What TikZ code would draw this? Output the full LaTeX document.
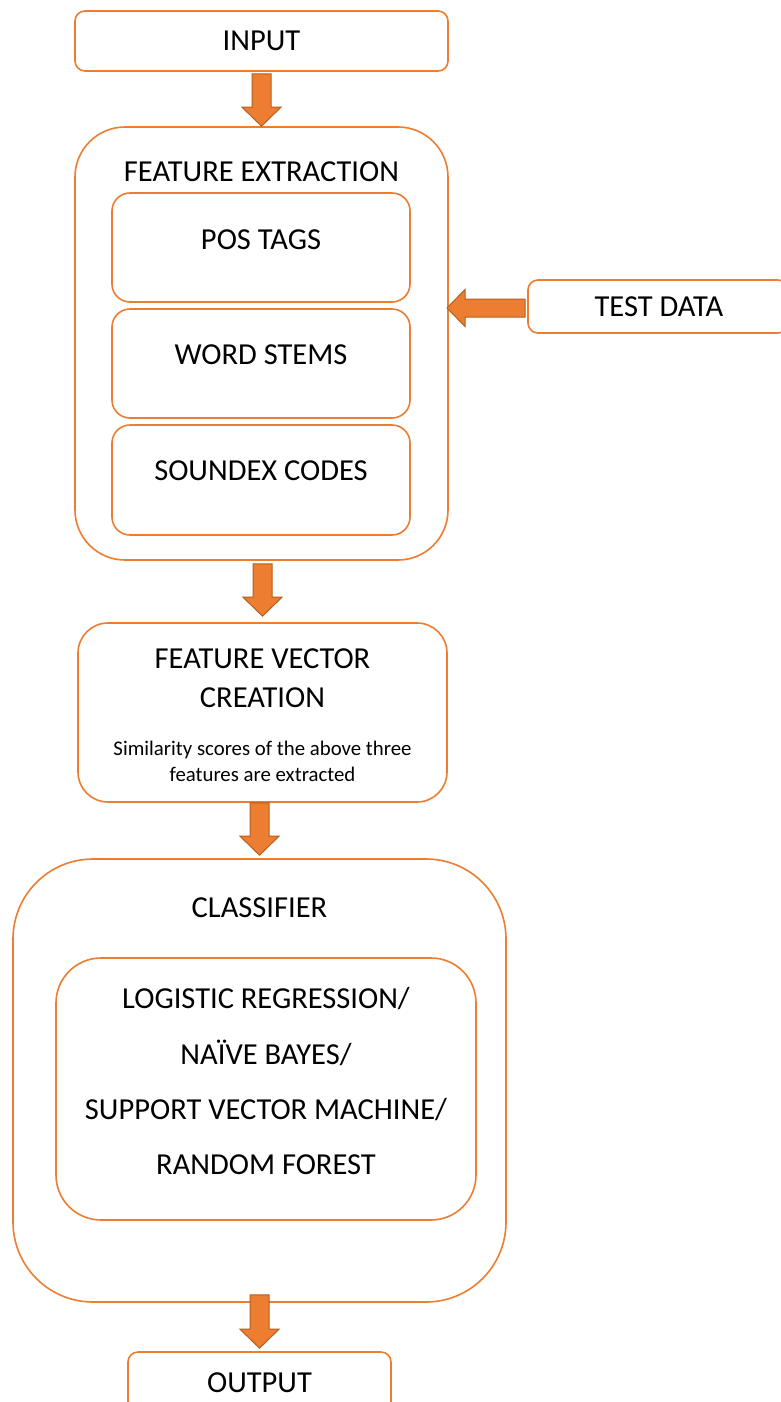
\documentclass[tikz,border=0pt]{standalone}
\usepackage{fontspec}
\setmainfont{Carlito}
\usetikzlibrary{calc}
\definecolor{boxorange}{HTML}{ED7D31}
\definecolor{arrowedge}{HTML}{B4601F}
\tikzset{
  box/.style={draw=boxorange, line width=1.6pt, fill=white, inner sep=0pt},
  bigtxt/.style={font=\fontsize{30.5}{39}\selectfont, inner sep=0pt, text height=19.6pt, text depth=0pt, align=center},
  smalltxt/.style={font=\fontsize{20.8}{26}\selectfont, inner sep=0pt, text height=13.4pt, text depth=0pt, align=center},
  algtxtstyle/.style={font=\fontsize{30.5}{55.3}\selectfont, inner sep=0pt, text height=19.6pt, text depth=0pt, align=center},
  barrow/.style={fill=boxorange, draw=arrowedge, line width=1pt, line join=miter}
}
\newcommand{\vblockarrow}[2]{%
  \draw[barrow] let \p1=(#1), \p2=(#2) in
    (\x2-9.5pt,\y1) -- (\x2+9.5pt,\y1) -- (\x2+9.5pt,\y2+19pt) -- (\x2+19.5pt,\y2+19pt)
    -- (\x2,\y2) -- (\x2-19.5pt,\y2+19pt) -- (\x2-9.5pt,\y2+19pt) -- cycle;}
\newcommand{\hblockarrow}[2]{%
  \draw[barrow] let \p1=(#1), \p2=(#2) in
    (\x1,\y2+9pt) -- (\x2+18pt,\y2+9pt) -- (\x2+18pt,\y2+18.5pt) -- (\x2,\y2)
    -- (\x2+18pt,\y2-18.5pt) -- (\x2+18pt,\y2-9pt) -- (\x1,\y2-9pt) -- cycle;}
\begin{document}
\begin{tikzpicture}[x=1pt, y=-1pt]
\fill[white] (0,0) rectangle (780,1402);
\useasboundingbox (0,0) rectangle (780,1402);

% INPUT
\node[box, rounded corners=10pt, minimum width=373pt, minimum height=60pt] (input) at (261.5,41) {};
\node[bigtxt] (inputtxt) at (261.5,41) {INPUT};

% FEATURE EXTRACTION container
\node[box, rounded corners=50pt, minimum width=373pt, minimum height=433pt] (fe) at (261.5,343.5) {};
\node[bigtxt] (fetitle) at (261.5,172) {FEATURE EXTRACTION};
\node[box, rounded corners=18pt, minimum width=298pt, minimum height=109pt] (pos) at (261,247.5) {};
\node[bigtxt] (postxt) at (261,240) {POS TAGS};
\node[box, rounded corners=18pt, minimum width=298pt, minimum height=109pt] (stem) at (261,363.5) {};
\node[bigtxt] (stemtxt) at (261,355) {WORD STEMS};
\node[box, rounded corners=18pt, minimum width=298pt, minimum height=110pt] (sndx) at (261,480) {};
\node[bigtxt] (sndxtxt) at (261,471) {SOUNDEX CODES};

% TEST DATA
\node[box, rounded corners=10pt, minimum width=260pt, minimum height=53pt] (td) at (658,306.5) {};
\node[bigtxt] (tdtxt) at (659,307) {TEST DATA};
\coordinate (tdtip) at (447,308);

% FEATURE VECTOR CREATION
\node[box, rounded corners=30pt, minimum width=369pt, minimum height=179pt] (fvc) at (262.5,712.5) {};
\node[bigtxt] (fvctitle) at (262.5,698) {FEATURE VECTOR\\CREATION};
\node[smalltxt] (fvcsub) at (262.5,775) {Similarity scores of the above three\\features are extracted};

% CLASSIFIER
\node[box, rounded corners=80pt, minimum width=493pt, minimum height=443pt] (cls) at (259.5,1080.5) {};
\node[bigtxt] (clstitle) at (259.5,908) {CLASSIFIER};
\node[box, rounded corners=45pt, minimum width=420pt, minimum height=262pt] (alg) at (266,1089) {};
\node[algtxtstyle] (algtxt) at (266,1165) {LOGISTIC REGRESSION/\\NAÏVE BAYES/\\SUPPORT VECTOR MACHINE/\\RANDOM FOREST};

% OUTPUT
\node[box, rounded corners=10pt, minimum width=263pt, minimum height=62pt] (out) at (259.5,1383) {};
\node[bigtxt] (outtxt) at (259.5,1383) {OUTPUT};

% block arrows
\vblockarrow{$(input.south)+(0,2)$}{fe.north}
\vblockarrow{$(fe.south)+(0,3)$}{$(fvc.north)+(0,-6)$}
\vblockarrow{fvc.south}{$(cls.north)+(0,-3)$}
\vblockarrow{$(cls.south)+(0,-8)$}{$(out.north)+(0,-3)$}
\hblockarrow{$(td.west)+(-2,0)$}{tdtip}
\end{tikzpicture}
\end{document}
